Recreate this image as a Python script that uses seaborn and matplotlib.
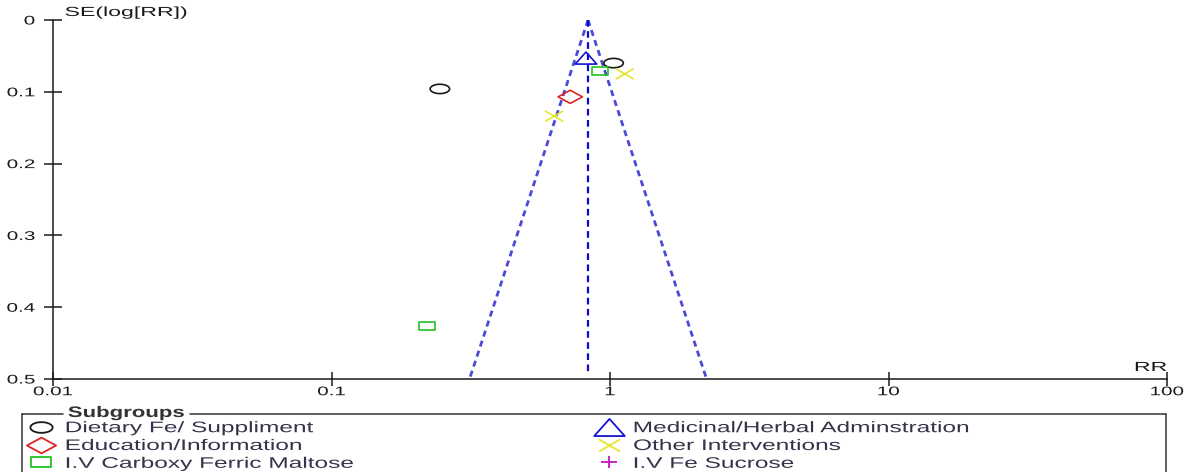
import numpy as np
import pandas as pd
import matplotlib
matplotlib.use("Agg")
import matplotlib.pyplot as plt
import seaborn as sns
from matplotlib.path import Path
from matplotlib.lines import Line2D
from matplotlib.patheffects import AbstractPathEffect
from matplotlib.transforms import Affine2D

# ---------------- data ----------------
subgroups = ["Dietary Fe/ Suppliment", "Medicinal/Herbal Adminstration",
             "Education/Information", "Other Interventions",
             "I.V Carboxy Ferric Maltose", "I.V Fe Sucrose"]
study_group = ["Dietary Fe/ Suppliment", "Dietary Fe/ Suppliment",
               "Medicinal/Herbal Adminstration", "Education/Information",
               "Other Interventions", "Other Interventions",
               "I.V Carboxy Ferric Maltose", "I.V Carboxy Ferric Maltose"]
study_rr = [0.245, 1.03, 0.82, 0.72, 1.13, 0.63, 0.92, 0.22]
study_se = [0.096, 0.060, 0.053, 0.107, 0.075, 0.134, 0.071, 0.426]
pooled_rr = 0.834
se_max = 0.5
x_ticks = [0.01, 0.1, 1, 10, 100]
x_tick_labels = ["0.01", "0.1", "1", "10", "100"]
y_ticks = [0, 0.1, 0.2, 0.3, 0.4, 0.5]
y_tick_labels = ["0", "0.1", "0.2", "0.3", "0.4", "0.5"]

df = pd.DataFrame({"RR": study_rr, "SE": study_se, "Subgroup": study_group})

# ---------------- style ----------------
sns.set_theme(style="white")
plt.rcParams["font.family"] = ["Liberation Sans", "DejaVu Sans"]


class Stretch(AbstractPathEffect):
    """Widen glyphs horizontally (reference text is horizontally stretched)."""

    def __init__(self, sx, anchor="left"):
        super().__init__()
        self.sx = sx
        self.anchor = anchor

    def draw_path(self, renderer, gc, tpath, affine, rgbFace=None):
        ext = tpath.get_extents()
        if self.anchor == "left":
            cx = ext.x0
        elif self.anchor == "center":
            cx = 0.5 * (ext.x0 + ext.x1)
        else:
            cx = ext.x1
        t = Affine2D().translate(-cx, 0).scale(self.sx, 1).translate(cx, 0)
        renderer.draw_path(gc, tpath, t + affine, rgbFace)


def ellipse(a):
    t = np.linspace(0, 2 * np.pi, 64)
    return Path(np.column_stack([np.cos(t), a * np.sin(t)]), closed=True)


def poly(pts):
    pts = list(pts) + [pts[0]]
    return Path(np.asarray(pts, float), closed=True)


def cross(a):
    return Path([(-1, -a), (1, a), (-1, a), (1, -a)],
                [Path.MOVETO, Path.LINETO, Path.MOVETO, Path.LINETO])


def plus(a):
    return Path([(-1, 0), (1, 0), (0, -a), (0, a)],
                [Path.MOVETO, Path.LINETO, Path.MOVETO, Path.LINETO])


markers = {
    "Dietary Fe/ Suppliment": ellipse(0.48),
    "Medicinal/Herbal Adminstration": poly([(-1, -0.56), (1, -0.56), (0, 0.56)]),
    "Education/Information": poly([(-1, 0), (0, 0.54), (1, 0), (0, -0.54)]),
    "Other Interventions": cross(0.58),
    "I.V Carboxy Ferric Maltose": poly([(-1, -0.53), (1, -0.53), (1, 0.53), (-1, 0.53)]),
    "I.V Fe Sucrose": plus(0.7),
}
colors = {
    "Dietary Fe/ Suppliment": "#1a1a1a",
    "Medicinal/Herbal Adminstration": "#1414d2",
    "Education/Information": "#e02424",
    "Other Interventions": "#e6e62a",
    "I.V Carboxy Ferric Maltose": "#22c222",
    "I.V Fe Sucrose": "#c414c4",
}
plot_size = {  # marker width in points
    "Dietary Fe/ Suppliment": 14.0,
    "Medicinal/Herbal Adminstration": 15.5,
    "Education/Information": 17.5,
    "Other Interventions": 13.0,
    "I.V Carboxy Ferric Maltose": 11.5,
    "I.V Fe Sucrose": 11.5,
}
leg_size = {
    "Dietary Fe/ Suppliment": 16.0,
    "Medicinal/Herbal Adminstration": 22.0,
    "Education/Information": 21.0,
    "Other Interventions": 15.0,
    "I.V Carboxy Ferric Maltose": 14.0,
    "I.V Fe Sucrose": 11.5,
}

# ---------------- figure ----------------
W, H = 1188, 472
fig = plt.figure(figsize=(W / 100, H / 100), dpi=100)
ax_l, ax_r, ax_t, ax_b = 53, 1167, 20, 379
ax = fig.add_axes([ax_l / W, 1 - ax_b / H, (ax_r - ax_l) / W, (ax_b - ax_t) / H])
ax.set_xscale("log")

# funnel
lo = pooled_rr * np.exp(-1.96 * se_max)
hi = pooled_rr * np.exp(1.96 * se_max)
ax.plot([pooled_rr, lo], [0, se_max], color="#4a4ad8", lw=2.0,
        dashes=(2.2, 1.6), solid_capstyle="butt", zorder=2)
ax.plot([pooled_rr, hi], [0, se_max], color="#4a4ad8", lw=2.0,
        dashes=(2.2, 1.6), solid_capstyle="butt", zorder=2)
ax.plot([pooled_rr, pooled_rr], [0, se_max * 0.99], color="#0a0ad0", lw=1.6,
        dashes=(3.0, 2.0), zorder=2)

# studies
for g in subgroups:
    sub = df[df["Subgroup"] == g]
    if sub.empty:
        continue
    sns.scatterplot(data=sub, x="RR", y="SE", ax=ax, marker=markers[g],
                    s=plot_size[g] ** 2, color=colors[g], facecolor="none",
                    edgecolor=colors[g], linewidth=1.2, legend=False, zorder=3)

ax.set_xlim(0.01, 100)
ax.set_ylim(0.5, 0)
ax.set_xticks(x_ticks)
ax.set_xticklabels(x_tick_labels)
ax.set_yticks(y_ticks)
ax.set_yticklabels(y_tick_labels)
ax.minorticks_off()
ax.xaxis.set_minor_locator(matplotlib.ticker.NullLocator())

for side in ["top", "right"]:
    ax.spines[side].set_visible(False)
for side in ["left", "bottom"]:
    ax.spines[side].set_color("#1a1a1a")
    ax.spines[side].set_linewidth(1.1)

ax.tick_params(axis="y", direction="inout", length=13, width=1.1, pad=6.5,
               labelsize=9, colors="#1a1a1a", left=True)
ax.tick_params(axis="x", direction="inout", length=9.4, width=1.1, pad=0.5,
               labelsize=9, colors="#1a1a1a", bottom=True)
ax.set_facecolor("white")

for lab in ax.get_xticklabels():
    lab.set_path_effects([Stretch(1.65, "center")])
for lab in ax.get_yticklabels():
    lab.set_path_effects([Stretch(1.65, "right")])

ax.set_ylabel("SE(log[RR])", rotation=0, ha="left", va="center",
              fontsize=9.5, color="#1a1a1a")
ax.yaxis.set_label_coords((65 - ax_l) / (ax_r - ax_l), 1 + (ax_t - 13) / (ax_b - ax_t))
ax.yaxis.label.set_path_effects([Stretch(1.75, "left")])
ax.set_xlabel("RR", ha="right", va="center", fontsize=9.5, color="#1a1a1a")
ax.xaxis.set_label_coords(1.0, (ax_b - 368) / (ax_b - ax_t))
ax.xaxis.label.set_path_effects([Stretch(1.75, "right")])

# ---------------- legend ----------------
def handle(g):
    return Line2D([], [], linestyle="none", marker=markers[g],
                  markersize=leg_size[g], markerfacecolor="none",
                  markeredgecolor=colors[g], markeredgewidth=1.3)


fs = 11
fs_px = fs * 100 / 72
col1 = [subgroups[0], subgroups[2], subgroups[4]]
col2 = [subgroups[1], subgroups[3], subgroups[5]]
hl = 1.6
for names, mx in [(col1, 41), (col2, 609)]:
    anchor_x = mx - hl * fs_px / 2
    leg = fig.legend(handles=[handle(g) for g in names], labels=names,
                     loc="center left",
                     bbox_to_anchor=(anchor_x / W, 1 - 446 / H),
                     frameon=False, fontsize=fs, handlelength=hl,
                     handletextpad=0.8, labelspacing=0.25, borderpad=0,
                     borderaxespad=0, labelcolor="#33334a")
    for t in leg.get_texts():
        t.set_path_effects([Stretch(1.6, "left")])

# legend frame with inset title
frame_kw = dict(color="#333333", lw=1.1, transform=fig.transFigure)
fy = 1 - 414 / H
fig.add_artist(Line2D([22 / W, 22 / W], [fy, -0.1], **frame_kw))
fig.add_artist(Line2D([1166 / W, 1166 / W], [fy, -0.1], **frame_kw))
fig.add_artist(Line2D([22 / W, 63 / W], [fy, fy], **frame_kw))
fig.add_artist(Line2D([190 / W, 1166 / W], [fy, fy], **frame_kw))
fig.text(68 / W, 1 - 413 / H, "Subgroups", fontsize=11, fontweight="bold",
         ha="left", va="center", color="#333333",
         path_effects=[Stretch(1.45, "left")])

fig.savefig("out.png", dpi=100, facecolor="white")
